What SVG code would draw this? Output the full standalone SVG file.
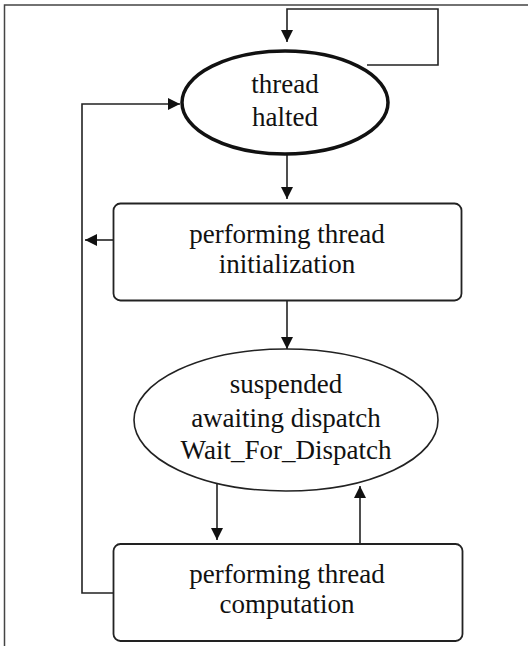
<svg xmlns="http://www.w3.org/2000/svg" width="528" height="646" viewBox="0 0 528 646">
<style>
.c{fill:none;stroke:#222;stroke-width:1.6}
.box{fill:#fff;stroke:#222;stroke-width:1.8}
</style>
<defs>
<marker id="ah" viewBox="0 0 10 10" refX="10" refY="5" markerWidth="13" markerHeight="12" markerUnits="userSpaceOnUse" orient="auto">
<path d="M0,0 L10,5 L0,10 z" fill="#111"/>
</marker>
</defs>
<rect width="528" height="646" fill="#fff"/>
<g id="frame">
<path d="M4.5,646 L4.5,5 L528,5" fill="none" stroke="#444" stroke-width="1.5"/>
</g>
<g id="connectors">
<path class="c" d="M367,65 L438,65 L438,9 L287,9 L287,42" marker-end="url(#ah)"/>
<path class="c" d="M287,155 L287,199" marker-end="url(#ah)"/>
<path class="c" d="M287,301 L287,349" marker-end="url(#ah)"/>
<path class="c" d="M113,240 L85,240" marker-end="url(#ah)"/>
<path class="c" d="M113,593 L82,593 L82,104 L180,104" marker-end="url(#ah)"/>
<path class="c" d="M217,484 L217,540" marker-end="url(#ah)"/>
<path class="c" d="M360,544 L360,486" marker-end="url(#ah)"/>
</g>
<g font-family="Liberation Serif, Times New Roman, serif" font-size="27" fill="#111" text-anchor="middle">
<g id="thread_halted">
<ellipse cx="285" cy="102.5" rx="103" ry="51.5" fill="#fff" stroke="#111" stroke-width="3.5"/>
<text x="285" y="93">thread</text>
<text x="285" y="126">halted</text>
</g>
<g id="thread_initialization">
<rect class="box" x="113.5" y="203.5" width="348" height="97" rx="7"/>
<text x="287" y="243">performing thread</text>
<text x="287" y="273">initialization</text>
</g>
<g id="suspended">
<ellipse cx="286" cy="420" rx="152" ry="71" fill="#fff" stroke="#222" stroke-width="1.6"/>
<text x="286" y="393">suspended</text>
<text x="286" y="427">awaiting dispatch</text>
<text x="286" y="459">Wait_For_Dispatch</text>
</g>
<g id="thread_computation">
<rect class="box" x="113.5" y="544" width="349" height="97" rx="7"/>
<text x="287" y="583">performing thread</text>
<text x="287" y="613">computation</text>
</g>
</g>
</svg>
